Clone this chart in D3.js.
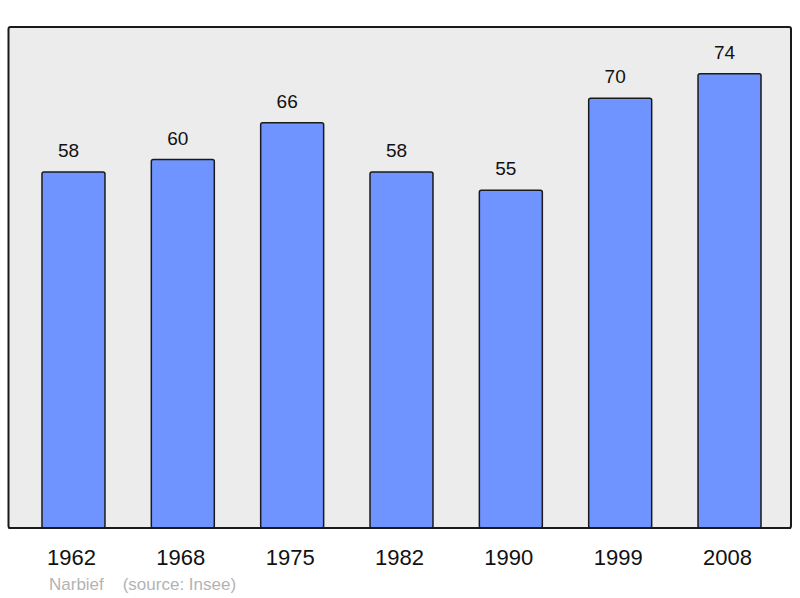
<!DOCTYPE html>
<html>
<head>
<meta charset="utf-8">
<script src="https://cdn.jsdelivr.net/npm/d3@7"></script>
<style>
  body { margin: 0; background: #fff; }
  svg { display: block; }
</style>
</head>
<body>
<div id="chart"></div>
<script>
// Population by census year
const years = ["1962", "1968", "1975", "1982", "1990", "1999", "2008"];
const population = [58, 60, 66, 58, 55, 70, 74];

const width = 800, height = 598;
const frame = { left: 8.5, top: 27, right: 791, bottom: 528 };
const font = "'Liberation Sans', Arial, sans-serif";

const svg = d3.select("#chart")
    .append("svg")
    .attr("width", width)
    .attr("height", height);

svg.append("rect")
    .attr("x", frame.left)
    .attr("y", frame.top)
    .attr("width", frame.right - frame.left)
    .attr("height", frame.bottom - frame.top)
    .attr("rx", 2)
    .attr("fill", "#ececec")
    .attr("stroke", "#1a1a1a")
    .attr("stroke-width", 2);

const x = d3.scaleBand()
    .domain(years)
    .range([18.8, 784.2])
    .paddingInner(0.424)
    .paddingOuter(0.212);

const y = d3.scaleLinear()
    .domain([0, 81.6])
    .range([frame.bottom, frame.top]);

svg.append("g")
    .selectAll("rect")
    .data(years)
    .enter()
    .append("rect")
    .attr("x", d => x(d))
    .attr("y", (d, i) => y(population[i]))
    .attr("width", x.bandwidth())
    .attr("height", (d, i) => y(0) - y(population[i]))
    .attr("rx", 2)
    .attr("fill", "#7094ff")
    .attr("stroke", "#1a1a1a")
    .attr("stroke-width", 1.5);

// redraw bottom frame line over bar bottoms
svg.append("line")
    .attr("x1", frame.left)
    .attr("x2", frame.right)
    .attr("y1", frame.bottom)
    .attr("y2", frame.bottom)
    .attr("stroke", "#1a1a1a")
    .attr("stroke-width", 2);

svg.append("g")
    .selectAll("text")
    .data(years)
    .enter()
    .append("text")
    .attr("x", d => x(d) + x.bandwidth() / 2 - 5)
    .attr("y", (d, i) => y(population[i]) - 15)
    .attr("text-anchor", "middle")
    .attr("font-family", font)
    .attr("font-size", "19px")
    .attr("fill", "#111")
    .text((d, i) => population[i]);

svg.append("g")
    .selectAll("text")
    .data(years)
    .enter()
    .append("text")
    .attr("x", d => x(d) + x.bandwidth() / 2 - 2)
    .attr("y", 565)
    .attr("text-anchor", "middle")
    .attr("font-family", font)
    .attr("font-size", "22px")
    .attr("fill", "#111")
    .text(d => d);

svg.append("text")
    .attr("x", 49)
    .attr("y", 590)
    .attr("font-family", font)
    .attr("font-size", "17px")
    .attr("fill", "#b3b3b3")
    .attr("xml:space", "preserve")
    .text("Narbief    (source: Insee)");
</script>
</body>
</html>
